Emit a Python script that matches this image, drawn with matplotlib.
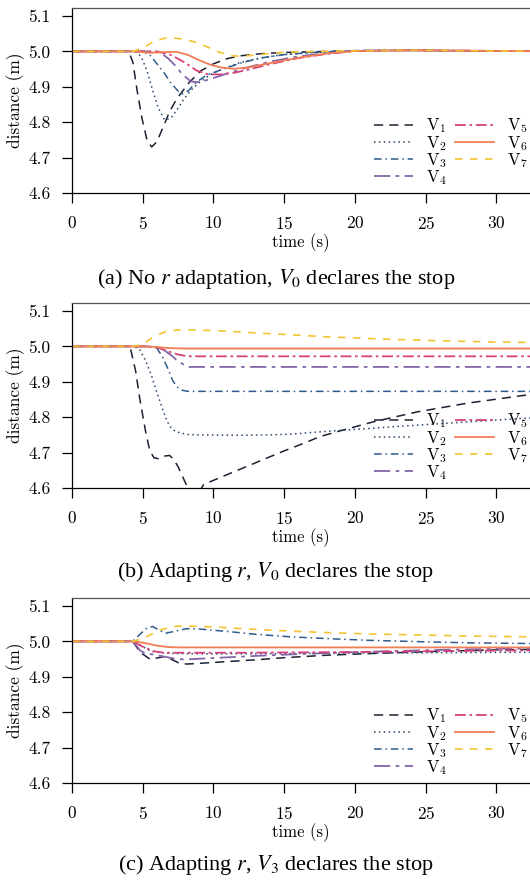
import matplotlib
matplotlib.use('Agg')
import matplotlib.pyplot as plt
from matplotlib.font_manager import FontProperties

plt.rcParams['font.family'] = 'cmr10'
plt.rcParams['axes.formatter.use_mathtext'] = True
plt.rcParams['mathtext.fontset'] = 'cm'

LABELS = [r'$\mathrm{V}_1$', r'$\mathrm{V}_2$', r'$\mathrm{V}_3$', r'$\mathrm{V}_4$',
          r'$\mathrm{V}_5$', r'$\mathrm{V}_6$', r'$\mathrm{V}_7$']
COLORS = ['#1b2233', '#2b4670', '#2f5b8c', '#8465a8', '#d6417a', '#f07e55', '#f4c431']
STYLES = [(0, (6, 4)), (0, (1, 2.2)), (0, (5, 2.5, 1, 2.5)), (0, (9, 3, 2, 3)),
          (0, (6, 2, 1.5, 2)), '-', (0, (4.5, 4.5))]
WIDTHS = [1.1, 1.1, 1.1, 1.3, 1.3, 1.3, 1.2]

XTICKS = [0, 5, 10, 15, 20, 25, 30]
YTICKS = [4.6, 4.7, 4.8, 4.9, 5.0, 5.1]
CAPTIONS = [r'(a) No $r$ adaptation, $V_0$ declares the stop',
            r'(b) Adapting $r$, $V_0$ declares the stop',
            r'(c) Adapting $r$, $V_3$ declares the stop']

# (a) no r adaptation, V0 stops
a_t1 = [0, 4.0, 4.3, 4.6, 4.95, 5.3, 5.63, 6.0, 6.45, 6.9, 7.4, 8.3, 9.1, 10.0, 11.0, 12.0, 13.5, 15, 17, 20, 24, 28, 35]
a_v1 = [5.0, 5.0, 4.97, 4.89, 4.81, 4.75, 4.73, 4.745, 4.787, 4.83, 4.866, 4.913, 4.945, 4.965, 4.98, 4.988, 4.994, 4.997, 4.999, 5.002, 5.003, 5.001, 5.0]
a_t2 = [0, 4.5, 4.9, 5.3, 5.7, 6.1, 6.55, 7.0, 7.4, 7.9, 8.4, 9.0, 9.8, 10.8, 12, 13.5, 15, 17, 20, 24, 35]
a_v2 = [5.0, 5.0, 4.985, 4.945, 4.89, 4.84, 4.806, 4.812, 4.834, 4.865, 4.89, 4.912, 4.935, 4.953, 4.97, 4.983, 4.991, 4.997, 5.002, 5.003, 5.0]
a_t3 = [0, 5.0, 5.5, 6.0, 6.5, 7.0, 7.5, 7.8, 8.2, 8.8, 9.5, 10.9, 12, 13.3, 15, 17, 20, 24, 35]
a_v3 = [5.0, 5.0, 4.99, 4.965, 4.94, 4.91, 4.888, 4.88, 4.888, 4.913, 4.933, 4.953, 4.968, 4.981, 4.991, 4.997, 5.002, 5.003, 5.0]
a_t4 = [0, 5.8, 6.3, 6.8, 7.3, 7.8, 8.4, 9.0, 9.8, 11, 12.5, 14, 16, 18, 20, 24, 35]
a_v4 = [5.0, 5.0, 4.995, 4.98, 4.96, 4.935, 4.915, 4.913, 4.922, 4.938, 4.956, 4.971, 4.986, 4.995, 5.002, 5.003, 5.0]
a_t5 = [0, 6.0, 7.0, 8.0, 8.8, 9.6, 10.5, 11.5, 12.5, 14, 16, 18, 20, 24, 35]
a_v5 = [5.0, 5.0, 4.99, 4.968, 4.946, 4.935, 4.935, 4.94, 4.949, 4.964, 4.981, 4.993, 5.001, 5.003, 5.0]
a_t6 = [0, 4.5, 5.5, 6.5, 7.4, 8.2, 9.0, 9.8, 10.6, 11.5, 12.5, 14, 16, 18, 20, 24, 35]
a_v6 = [5.0, 5.0, 4.996, 4.998, 4.999, 4.99, 4.975, 4.962, 4.954, 4.951, 4.955, 4.967, 4.982, 4.994, 5.001, 5.003, 5.0]
a_t7 = [0, 4.3, 5.0, 5.8, 6.5, 7.2, 8.0, 8.8, 9.6, 10.4, 11.2, 12, 13, 14.5, 16, 20, 24, 35]
a_v7 = [5.0, 5.0, 5.01, 5.028, 5.037, 5.038, 5.034, 5.025, 5.012, 4.998, 4.988, 4.986, 4.99, 4.996, 4.999, 5.002, 5.003, 5.0]

# (b) adapting r, V0 stops
b_t1 = [0, 4.1, 4.5, 4.8, 5.2, 5.5, 5.8, 6.1, 6.5, 6.9, 7.2, 7.5, 7.9, 8.3, 8.8, 9.3, 10.5, 12, 13.5, 15, 16.5, 17.5, 19, 21.3, 24.4, 28, 32, 35]
b_v1 = [5.0, 5.0, 4.93, 4.85, 4.76, 4.705, 4.685, 4.683, 4.69, 4.692, 4.68, 4.66, 4.625, 4.59, 4.575, 4.61, 4.63, 4.655, 4.68, 4.705, 4.728, 4.745, 4.762, 4.787, 4.815, 4.84, 4.862, 4.875]
b_t2 = [0, 4.4, 4.8, 5.2, 5.6, 6.0, 6.3, 6.6, 6.9, 7.2, 7.6, 8.2, 9, 12, 14, 15.5, 17, 19, 21, 23, 25, 28, 32, 35]
b_v2 = [5.0, 5.0, 4.99, 4.96, 4.92, 4.87, 4.835, 4.8, 4.775, 4.763, 4.756, 4.751, 4.75, 4.749, 4.75, 4.752, 4.757, 4.763, 4.768, 4.774, 4.779, 4.787, 4.797, 4.803]
b_t3 = [0, 5.5, 6.0, 6.4, 6.8, 7.1, 7.4, 7.8, 8.2, 35]
b_v3 = [5.0, 5.0, 4.995, 4.97, 4.935, 4.905, 4.886, 4.876, 4.873, 4.873]
b_t4 = [0, 5.5, 6.0, 6.5, 7.0, 7.5, 8.2, 35]
b_v4 = [5.0, 5.0, 4.998, 4.99, 4.975, 4.958, 4.942, 4.942]
b_t5 = [0, 5.3, 6.0, 6.8, 7.5, 8.2, 35]
b_v5 = [5.0, 5.0, 4.997, 4.986, 4.977, 4.972, 4.972]
b_t6 = [0, 5, 6, 7, 8, 35]
b_v6 = [5.0, 5.0, 4.998, 4.995, 4.994, 4.994]
b_t7 = [0, 4.3, 5.0, 5.8, 6.7, 7.6, 9, 11, 13, 15.4, 18, 22.5, 26, 29, 32.4, 35]
b_v7 = [5.0, 5.0, 5.006, 5.028, 5.043, 5.047, 5.046, 5.043, 5.038, 5.033, 5.027, 5.02, 5.016, 5.013, 5.011, 5.01]

# (c) adapting r, V3 stops
c_t1 = [0, 4.3, 4.8, 5.5, 6.0, 6.5, 7.0, 7.5, 8.1, 9, 11, 13, 15, 18, 22, 26, 30, 35]
c_v1 = [5.0, 5.0, 4.97, 4.95, 4.953, 4.957, 4.95, 4.94, 4.936, 4.938, 4.943, 4.948, 4.954, 4.961, 4.967, 4.972, 4.976, 4.979]
c_t2 = [0, 4.3, 5.0, 5.6, 6.3, 7, 9, 12, 16, 20, 25, 30, 35]
c_v2 = [5.0, 5.0, 4.985, 4.972, 4.968, 4.966, 4.965, 4.965, 4.966, 4.967, 4.968, 4.969, 4.970]
c_t3 = [0, 4.3, 4.8, 5.3, 5.7, 6.1, 6.6, 7.2, 8.1, 9, 11, 13, 15.4, 18, 21, 24.8, 28, 32.4, 35]
c_v3 = [5.0, 5.0, 5.02, 5.038, 5.042, 5.033, 5.023, 5.028, 5.036, 5.035, 5.028, 5.02, 5.013, 5.008, 5.003, 4.999, 4.996, 4.994, 4.993]
c_t4 = [0, 4.3, 4.8, 5.2, 5.8, 6.5, 7.3, 8.0, 9, 11, 14, 18, 22, 26, 30, 35]
c_v4 = [5.0, 5.0, 4.975, 4.965, 4.963, 4.957, 4.951, 4.949, 4.951, 4.955, 4.961, 4.967, 4.972, 4.976, 4.979, 4.981]
c_t5 = [0, 4.3, 5.0, 5.8, 6.5, 8, 12, 16, 20, 25, 30, 35]
c_v5 = [5.0, 5.0, 4.985, 4.972, 4.968, 4.968, 4.968, 4.969, 4.97, 4.972, 4.974, 4.975]
c_t6 = [0, 4.4, 5.2, 6.0, 6.8, 7.5, 35]
c_v6 = [5.0, 5.0, 4.995, 4.988, 4.984, 4.983, 4.983]
c_t7 = [0, 4.3, 5.0, 5.6, 6.2, 7.0, 7.4, 8.6, 10, 12, 15.4, 18, 21, 24.8, 28, 32.4, 35]
c_v7 = [5.0, 5.0, 5.008, 5.02, 5.032, 5.04, 5.043, 5.043, 5.041, 5.036, 5.029, 5.025, 5.021, 5.018, 5.015, 5.013, 5.012]

PANELS = [
    [(a_t1, a_v1), (a_t2, a_v2), (a_t3, a_v3), (a_t4, a_v4), (a_t5, a_v5), (a_t6, a_v6), (a_t7, a_v7)],
    [(b_t1, b_v1), (b_t2, b_v2), (b_t3, b_v3), (b_t4, b_v4), (b_t5, b_v5), (b_t6, b_v6), (b_t7, b_v7)],
    [(c_t1, c_v1), (c_t2, c_v2), (c_t3, c_v3), (c_t4, c_v4), (c_t5, c_v5), (c_t6, c_v6), (c_t7, c_v7)],
]

W, H = 530, 880
fig = plt.figure(figsize=(W / 100, H / 100), dpi=100)

left = 72 / W
ax_h = 185 / H
bottoms = [1 - 193 / H, 1 - 488 / H, 1 - 783 / H]
cap_y = [1 - 279 / H, 1 - 572 / H, 1 - 865 / H]

cap_font = FontProperties(family='Liberation Serif', size=16, math_fontfamily='stix')
leg_font = FontProperties(family='cmr10', size=12, math_fontfamily='cm')

for i, series in enumerate(PANELS):
    ax = fig.add_axes([left, bottoms[i], 1 - left, ax_h])
    for k, (t, v) in enumerate(series):
        ax.plot(t, v, color=COLORS[k], linestyle=STYLES[k], lw=WIDTHS[k], label=LABELS[k])
    ax.set_xlim(0, 32.37)
    ax.set_ylim(4.6, 5.1226)
    ax.set_xticks(XTICKS)
    ax.set_yticks(YTICKS)
    ax.set_yticklabels([f'{y:.1f}' for y in YTICKS])
    ax.spines['right'].set_visible(False)
    for s in ax.spines.values():
        s.set_linewidth(0.9)
    ax.spines['top'].set_color('#555555')
    ax.tick_params(direction='out', length=7.5, width=0.9, labelsize=12.5, pad=8)
    ax.set_xlabel('time (s)', fontsize=12, labelpad=1)
    ax.set_ylabel('distance (m)', fontsize=12.5, labelpad=2)
    ax.legend(ncol=2, loc='lower right', bbox_to_anchor=(1.02, -0.03), frameon=False,
              prop=leg_font, handlelength=2.35, handletextpad=0.75, columnspacing=0.5,
              labelspacing=-0.1, borderpad=0.2)
    fig.text(276 / W, cap_y[i], CAPTIONS[i], ha='center', va='center', fontproperties=cap_font)

fig.savefig('out.png', dpi=100)
